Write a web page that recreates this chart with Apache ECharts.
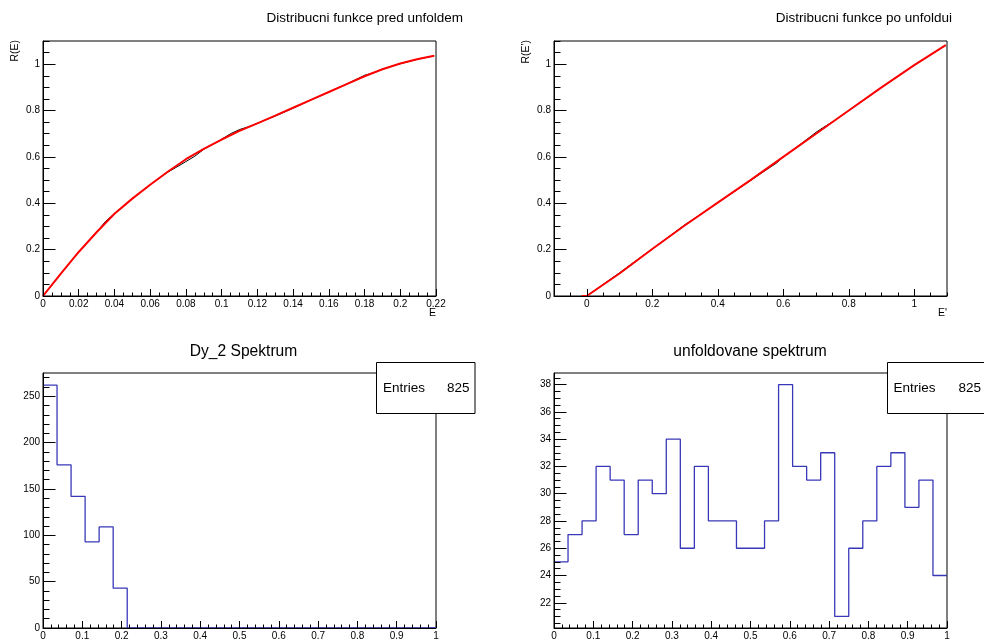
<!DOCTYPE html>
<html><head><meta charset="utf-8">
<script src="https://cdn.jsdelivr.net/npm/echarts@6/dist/echarts.min.js"></script>
<style>html,body{margin:0;padding:0;background:#fff}#c{width:984px;height:639px}</style>
</head><body><div id="c"></div>
<script>
// ---------- data ----------
const cdfBeforeE   = [0, 0.01, 0.02, 0.03, 0.04, 0.05, 0.06, 0.07, 0.08, 0.09, 0.1, 0.11, 0.12, 0.13, 0.14, 0.15, 0.16, 0.17, 0.18, 0.19, 0.2, 0.21, 0.219];
const cdfBeforeFit = [0, 0.097, 0.19, 0.275, 0.355, 0.42, 0.48, 0.537, 0.59, 0.635, 0.675, 0.712, 0.745, 0.778, 0.812, 0.846, 0.88, 0.914, 0.948, 0.978, 1.003, 1.022, 1.036];
const cdfBeforeDataE = [0, 0.01, 0.02, 0.03, 0.035, 0.04, 0.05, 0.06, 0.07, 0.075, 0.08, 0.085, 0.09, 0.1, 0.105, 0.11, 0.115, 0.12, 0.13, 0.14, 0.15, 0.16, 0.17, 0.18, 0.185, 0.19, 0.2, 0.21, 0.219];
const cdfBeforeData  = [0, 0.097, 0.19, 0.275, 0.322, 0.355, 0.42, 0.48, 0.535, 0.557, 0.58, 0.603, 0.633, 0.676, 0.7, 0.718, 0.73, 0.745, 0.776, 0.81, 0.846, 0.88, 0.914, 0.952, 0.963, 0.978, 1.002, 1.022, 1.036];

const cdfAfterE   = [-0.015, 0, 0.1, 0.2, 0.3, 0.4, 0.5, 0.6, 0.7, 0.8, 0.9, 1.0, 1.096];
const cdfAfterFit = [0, 0, 0.097, 0.203, 0.305, 0.403, 0.5, 0.6, 0.7, 0.8, 0.9, 0.996, 1.082];
const cdfAfterDataE = [-0.015, 0, 0.05, 0.1, 0.15, 0.2, 0.25, 0.3, 0.35, 0.4, 0.45, 0.5, 0.55, 0.58, 0.6, 0.65, 0.7, 0.72, 0.75, 0.8, 0.85, 0.9, 0.95, 1.0, 1.05, 1.096];
const cdfAfterData  = [0, 0, 0.05, 0.1, 0.152, 0.203, 0.255, 0.308, 0.354, 0.403, 0.45, 0.498, 0.546, 0.574, 0.6, 0.652, 0.706, 0.725, 0.751, 0.8, 0.849, 0.9, 0.948, 0.996, 1.04, 1.082];

const nBins = 28;
const dyCounts     = [262, 176, 142, 93, 109, 43, 0, 0, 0, 0, 0, 0, 0, 0, 0, 0, 0, 0, 0, 0, 0, 0, 0, 0, 0, 0, 0, 0];
const unfoldCounts = [25, 27, 28, 32, 31, 27, 31, 30, 34, 26, 32, 28, 28, 26, 26, 28, 38, 32, 31, 33, 21, 26, 28, 32, 33, 29, 31, 24];
const entries = [825, 825];

const panelTitles = ['Distribucni funkce pred unfoldem', 'Distribucni funkce po unfoldui', 'Dy_2 Spektrum', 'unfoldovane spektrum'];
const axisTitles = { x1: 'E', y1: 'R(E)', x2: "E'", y2: "R(E')" };

// ---------- helpers ----------
const FONT = '"Liberation Sans", Arial, Helvetica, sans-serif';
function seq(a, b, s) { const r = []; for (let i = 0; a + i * s <= b + 1e-9; i++) r.push(+(a + i * s).toFixed(6)); return r; }
function zip(xs, ys) { return xs.map((x, i) => [x, ys[i]]); }
function histData(counts, lo, hi) {
  const w = (hi - lo) / counts.length;
  const d = counts.map((c, i) => [+(lo + i * w).toFixed(8), c]);
  d.push([hi, counts[counts.length - 1]]);
  return d;
}
const fmt = v => String(+(+v).toFixed(6));

function mainAxis(pos, gi, min, max, majors, tickLen, margin) {
  return {
    type: 'value', gridIndex: gi, min, max, position: pos, z: 10,
    axisLine: { show: true, onZero: false, lineStyle: { color: '#000', width: 1 } },
    axisTick: { show: true, inside: true, length: tickLen, customValues: majors, lineStyle: { color: '#000', width: 1 } },
    axisLabel: { show: true, customValues: majors, margin, fontSize: 10, color: '#000', fontFamily: FONT, formatter: fmt, showMinLabel: true, showMaxLabel: true },
    splitLine: { show: false }, minorTick: { show: false }
  };
}
function minorAxis(pos, gi, min, max, minors, tickLen) {
  return {
    type: 'value', gridIndex: gi, min, max, position: pos, offset: 0, z: 10,
    axisLine: { show: false, onZero: false },
    axisTick: { show: true, inside: true, length: tickLen, customValues: minors, lineStyle: { color: '#000', width: 1 } },
    axisLabel: { show: false }, splitLine: { show: false }
  };
}

const grids = [
  { left: 43, top: 41, width: 393, height: 255 },
  { left: 554, top: 41, width: 393, height: 255 },
  { left: 43, top: 373, width: 393, height: 255 },
  { left: 554, top: 373, width: 393, height: 255 }
].map(g => Object.assign(g, { show: true, borderColor: '#000', borderWidth: 1, backgroundColor: 'transparent', containLabel: false, outerBoundsMode: 'none' }));

const XL = 7, XS = 3.5, YL = 12.5, YS = 6.5;
const xAxes = [
  mainAxis('bottom', 0, 0, 0.22, seq(0, 0.22, 0.02), XL, 3),
  mainAxis('bottom', 1, -0.1, 1.1, seq(0, 1, 0.2), XL, 3),
  mainAxis('bottom', 2, 0, 1, seq(0, 1, 0.1), XL, 3),
  mainAxis('bottom', 3, 0, 1, seq(0, 1, 0.1), XL, 3),
  minorAxis('bottom', 0, 0, 0.22, seq(0, 0.22, 0.005), XS),
  minorAxis('bottom', 1, -0.1, 1.1, seq(-0.1, 1.1, 0.05), XS),
  minorAxis('bottom', 2, 0, 1, seq(0, 1, 0.02), XS),
  minorAxis('bottom', 3, 0, 1, seq(0, 1, 0.02), XS)
];
const yAxes = [
  mainAxis('left', 0, 0, 1.1, seq(0, 1, 0.2), YL, 3),
  mainAxis('left', 1, 0, 1.1, seq(0, 1, 0.2), YL, 3),
  mainAxis('left', 2, 0, 275.1, seq(0, 250, 50), YL, 3),
  mainAxis('left', 3, 20.15, 38.85, seq(22, 38, 2), YL, 3),
  minorAxis('left', 0, 0, 1.1, seq(0, 1.1, 0.05), YS),
  minorAxis('left', 1, 0, 1.1, seq(0, 1.1, 0.05), YS),
  minorAxis('left', 2, 0, 275.1, seq(0, 270, 10), YS),
  minorAxis('left', 3, 20.15, 38.85, seq(20.5, 38.5, 0.5), YS)
];

function lineSeries(gi, data, color, width, z, extra) {
  return Object.assign({
    type: 'line', xAxisIndex: gi, yAxisIndex: gi, data, symbol: 'none', showSymbol: false,
    lineStyle: { color, width }, itemStyle: { color }, z, animation: false, silent: true
  }, extra || {});
}
const HIST = '#3838b8';
const series = [
  lineSeries(0, zip(cdfBeforeDataE, cdfBeforeData), '#000', 1, 2),
  lineSeries(0, zip(cdfBeforeE, cdfBeforeFit), '#ff0000', 2, 3),
  lineSeries(1, zip(cdfAfterDataE, cdfAfterData), '#000', 1, 2),
  lineSeries(1, zip(cdfAfterE, cdfAfterFit), '#ff0000', 2, 3),
  lineSeries(2, histData(dyCounts, 0, 1), HIST, 1.3, 3, { step: 'end' }),
  lineSeries(3, histData(unfoldCounts, 0, 1), HIST, 1.3, 3, { step: 'end' })
];

function txt(x, y, text, size, align, vAlign, rot) {
  return { type: 'text', x, y, rotation: rot || 0, z: 200,
    style: { text, font: size + 'px ' + FONT, fill: '#000', align, verticalAlign: vAlign } };
}
function statBox(x, y, w, h, n, tx, nx) {
  return [
    { type: 'rect', shape: { x, y, width: w, height: h }, style: { fill: '#fff', stroke: '#000', lineWidth: 1 }, z: 150 },
    txt(tx, y + 25.5, 'Entries', 13.5, 'left', 'middle'),
    txt(nx, y + 25.5, String(n), 13.5, 'right', 'middle')
  ];
}
const graphic = [
  txt(463, 18, panelTitles[0], 13.5, 'right', 'middle'),
  txt(952, 18, panelTitles[1], 13.5, 'right', 'middle'),
  txt(243.5, 352, panelTitles[2], 15.6, 'center', 'middle'),
  txt(750, 352, panelTitles[3], 15.6, 'center', 'middle'),
  txt(15, 40, axisTitles.y1, 10.5, 'right', 'middle', Math.PI / 2),
  txt(526, 40, axisTitles.y2, 10.5, 'right', 'middle', Math.PI / 2),
  txt(436, 313, axisTitles.x1, 10.5, 'right', 'middle'),
  txt(947, 313, axisTitles.x2, 10.5, 'right', 'middle'),
  ...statBox(376.5, 362.5, 98.5, 51, entries[0], 383, 469.5),
  ...statBox(887.5, 362.5, 100, 51, entries[1], 893.5, 981)
];

const chart = echarts.init(document.getElementById('c'), null, { renderer: 'canvas' });
chart.setOption({
  animation: false, backgroundColor: '#fff',
  textStyle: { fontFamily: FONT },
  grid: grids, xAxis: xAxes, yAxis: yAxes, series, graphic
});
</script></body></html>
